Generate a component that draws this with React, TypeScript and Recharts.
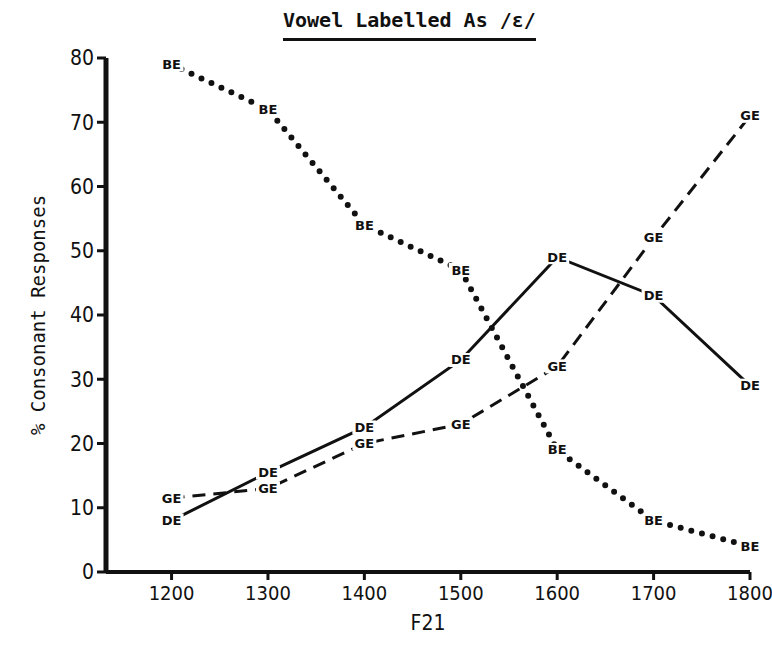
import React from 'react'
import { LineChart, Line, XAxis, YAxis } from 'recharts'

const f2Values = [1200, 1300, 1400, 1500, 1600, 1700, 1800]
const beValues = [79, 72, 54, 47, 19, 8, 4]
const deValues = [8, 15.5, 22.5, 33, 49, 43, 29]
const geValues = [11.5, 13, 20, 23, 32, 52, 71]
const yTicks = [0, 10, 20, 30, 40, 50, 60, 70, 80]

const data = f2Values.map((f, i) => ({
  f2: f,
  BE: beValues[i],
  DE: deValues[i],
  GE: geValues[i],
}))

const numFont = '"Liberation Sans Narrow", "DejaVu Sans Condensed", "Liberation Sans", sans-serif'
const monoFont = '"DejaVu Sans Mono", "Liberation Mono", monospace'

const makeLabel = (name: string) => (props: any) => {
  const { cx, cy, index } = props
  if (cx == null || cy == null) return <g key={`${name}-${index}`} />
  return (
    <g key={`${name}-${index}`}>
      <rect x={cx - 12} y={cy - 7} width={24} height={14} fill="#fff" />
      <text
        x={cx}
        y={cy}
        textAnchor="middle"
        dominantBaseline="central"
        fontFamily='"DejaVu Sans", sans-serif'
        fontWeight="bold"
        fontSize={13}
        fill="#111"
      >
        {name}
      </text>
    </g>
  )
}

export default function App() {
  return (
    <div style={{ position: 'absolute', left: 0, top: 0, width: 772, height: 656, background: '#fff' }}>
      <div
        style={{
          position: 'absolute',
          left: 283,
          top: 8,
          fontFamily: monoFont,
          fontSize: 20,
          fontWeight: 'bold',
          color: '#111',
          borderBottom: '3px solid #111',
          paddingBottom: 6,
          whiteSpace: 'nowrap',
        }}
      >
        Vowel Labelled As /ɛ/
      </div>
      <LineChart
        width={772}
        height={656}
        data={data}
        margin={{ top: 58, right: 22, bottom: 30, left: 26 }}
      >
        <XAxis
          dataKey="f2"
          type="number"
          domain={[1132, 1800]}
          ticks={f2Values}
          axisLine={{ stroke: '#111', strokeWidth: 4 }}
          tickLine={{ stroke: '#111', strokeWidth: 3 }}
          tickSize={8}
          tickMargin={6}
          height={54}
          tick={{ fontFamily: numFont, fontSize: 20, fill: '#111' }}
          label={{
            value: 'F21',
            position: 'insideBottom',
            offset: -4,
            fontFamily: numFont,
            fontSize: 21,
            fill: '#111',
          }}
        />
        <YAxis
          type="number"
          domain={[0, 80]}
          ticks={yTicks}
          width={80}
          axisLine={{ stroke: '#111', strokeWidth: 5 }}
          tickLine={{ stroke: '#111', strokeWidth: 3 }}
          tickSize={9}
          tickMargin={3}
          tick={{ fontFamily: numFont, fontSize: 21, fill: '#111' }}
          label={{
            value: '% Consonant Responses',
            angle: -90,
            position: 'insideLeft',
            offset: 12,
            style: { textAnchor: 'middle' },
            fontFamily: monoFont,
            fontSize: 19,
            fill: '#111',
          }}
        />
        <Line
          dataKey="BE"
          stroke="#111"
          strokeWidth={6}
          strokeDasharray="0 11"
          strokeLinecap="round"
          dot={false}
          activeDot={false}
          isAnimationActive={false}
        />
        <Line
          dataKey="DE"
          stroke="#111"
          strokeWidth={3}
          dot={false}
          activeDot={false}
          isAnimationActive={false}
        />
        <Line
          dataKey="GE"
          stroke="#111"
          strokeWidth={3}
          strokeDasharray="13 8"
          dot={false}
          activeDot={false}
          isAnimationActive={false}
        />
        <Line dataKey="BE" stroke="none" dot={makeLabel('BE')} activeDot={false} isAnimationActive={false} />
        <Line dataKey="DE" stroke="none" dot={makeLabel('DE')} activeDot={false} isAnimationActive={false} />
        <Line dataKey="GE" stroke="none" dot={makeLabel('GE')} activeDot={false} isAnimationActive={false} />
      </LineChart>
    </div>
  )
}
